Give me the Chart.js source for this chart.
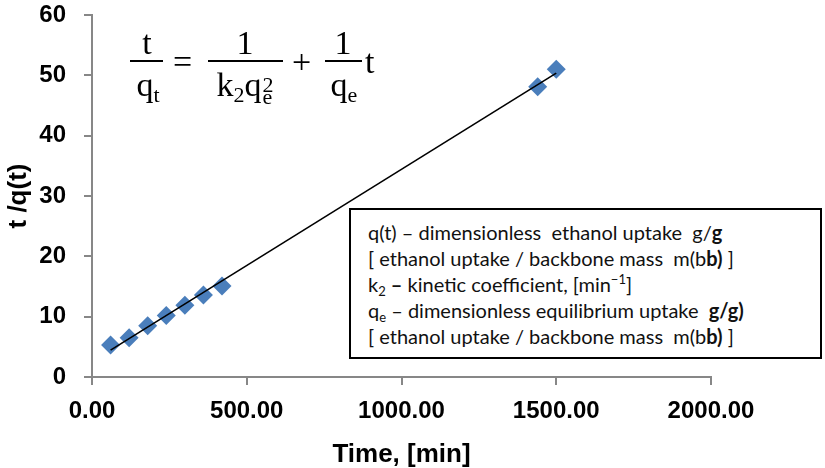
<!DOCTYPE html>
<html>
<head>
<meta charset="utf-8">
<script src="https://cdn.jsdelivr.net/npm/chart.js@4.4.0/dist/chart.umd.min.js"></script>
<style>
  html, body { margin: 0; padding: 0; background: #fff; }
  #wrap { position: relative; width: 825px; height: 468px; overflow: hidden; }
  #chart { position: absolute; left: 0; top: 0; }
  .eq { position: absolute; font-family: "Liberation Serif", serif; font-size: 34px; line-height: 34px; color: #000; white-space: nowrap; }
  .c { transform: translateX(-50%); }
  .bar { position: absolute; height: 0; border-top: 2px solid #000; }
  .eq sub { font-size: 22px; vertical-align: -6px; line-height: 0; }
  .stack { display: inline-block; position: relative; width: 12px; height: 0; }
  .stack span { position: absolute; left: 1px; font-size: 22px; line-height: 22px; }
  #note { position: absolute; box-sizing: border-box; left: 349px; top: 208px; width: 473px; height: 151px;
    border: 2px solid #000; background: #fff; padding: 9px 0 0 17px;
    font-family: Lato, "Open Sans", sans-serif; font-size: 20px; line-height: 26px; color: #111; white-space: nowrap; }
  #note sub { font-size: 13px; line-height: 0; vertical-align: -4px; }
  #note sup { font-size: 13px; line-height: 0; vertical-align: 8px; }
</style>
</head>
<body>
<div id="wrap">
  <canvas id="chart" width="825" height="468"></canvas>

  <!-- t/q_t = 1/(k2 qe^2) + 1/qe t -->
  <div class="eq c" style="left:147px; top:26px;">t</div>
  <div class="bar" style="left:130px; top:60px; width:33px;"></div>
  <div class="eq c" style="left:148px; top:68px;">q<sub>t</sub></div>
  <div class="eq" style="left:173px; top:45px;">=</div>
  <div class="eq c" style="left:245px; top:26px;">1</div>
  <div class="bar" style="left:208px; top:60px; width:75px;"></div>
  <div class="eq c" style="left:245px; top:68px;">k<sub>2</sub>q<span class="stack"><span style="top:-22px;">2</span><span style="top:-10px;">e</span></span></div>
  <div class="eq" style="left:292px; top:45px;">+</div>
  <div class="eq c" style="left:343px; top:26px;">1</div>
  <div class="bar" style="left:325px; top:60px; width:37px;"></div>
  <div class="eq c" style="left:344px; top:68px;">q<sub>e</sub></div>
  <div class="eq" style="left:365px; top:45px;">t</div>

  <div id="note">
    <div>q(t) – dimensionless&nbsp; ethanol uptake&nbsp; g/<b>g</b></div>
    <div>[ ethanol uptake / backbone mass&nbsp; m(b<b>b)</b> ]</div>
    <div>k<sub>2</sub> <b>–</b> kinetic coefficient, [min<sup>−1</sup>]</div>
    <div>q<sub>e</sub> – dimensionless equilibrium uptake&nbsp; <b>g/g)</b></div>
    <div>[ ethanol uptake / backbone mass&nbsp; m(b<b>b)</b> ]</div>
  </div>
</div>

<script>
// measured points: time [min] vs t/q(t)
const timeMin = [60, 120, 180, 240, 300, 360, 420, 1440, 1500];
const tOverQ = [5.3, 6.5, 8.5, 10.2, 11.9, 13.6, 15.1, 48.1, 51.0];

const xTicks = [0, 500, 1000, 1500, 2000];
const yTicks = [0, 10, 20, 30, 40, 50, 60];

// linear trendline (least squares) over the measured range
function linearFit(xs, ys) {
    const n = xs.length;
    let sx = 0, sy = 0, sxx = 0, sxy = 0;
    for (let i = 0; i < n; i++) {
        sx += xs[i]; sy += ys[i];
        sxx += xs[i] * xs[i]; sxy += xs[i] * ys[i];
    }
    const slope = (n * sxy - sx * sy) / (n * sxx - sx * sx);
    const icpt = (sy - slope * sx) / n;
    return { slope, icpt };
}
const fit = linearFit(timeMin, tOverQ);
const xMin = Math.min(...timeMin), xMax = Math.max(...timeMin);
const trend = [
    { x: xMin, y: fit.icpt + fit.slope * xMin },
    { x: xMax, y: fit.icpt + fit.slope * xMax }
];

const axisGrey = '#878787';
const tickFont = { family: "'Liberation Sans', Arial, sans-serif", size: 24, weight: 'bold' };
const titleFont = { family: "'Liberation Sans', Arial, sans-serif", size: 26, weight: 'bold', lineHeight: 1 };

new Chart(document.getElementById('chart'), {
    type: 'scatter',
    data: {
        datasets: [
            {
                label: 'trend',
                data: trend,
                showLine: true,
                borderColor: '#000',
                borderWidth: 1.6,
                pointRadius: 0,
                fill: false
            },
            {
                label: 't/q(t)',
                data: timeMin.map((t, i) => ({ x: t, y: tOverQ[i] })),
                pointStyle: 'rectRot',
                pointRadius: 9.5,
                backgroundColor: '#4a7ebb',
                borderColor: '#4a7ebb',
                borderWidth: 0
            }
        ]
    },
    options: {
        responsive: false,
        animation: false,
        devicePixelRatio: 1,
        layout: { padding: { top: 15, right: 114, bottom: 0, left: 0 } },
        plugins: {
            legend: { display: false },
            tooltip: { enabled: false }
        },
        scales: {
            x: {
                type: 'linear',
                min: 0,
                max: 2000,
                afterBuildTicks: (s) => { s.ticks = xTicks.map(v => ({ value: v })); },
                afterFit: (s) => { s.height = 91; },
                ticks: {
                    color: '#000',
                    font: tickFont,
                    padding: 12,
                    maxRotation: 0,
                    callback: (v) => Number(v).toFixed(2)
                },
                grid: { drawOnChartArea: false, drawTicks: true, tickLength: 8, color: axisGrey, lineWidth: 2 },
                border: { color: axisGrey, width: 2 },
                title: { display: true, text: 'Time, [min]', color: '#000', font: titleFont, padding: { top: 0, bottom: 0 } }
            },
            y: {
                min: 0,
                max: 60,
                afterBuildTicks: (s) => { s.ticks = yTicks.map(v => ({ value: v })); },
                // fixed width, and no extra label overflow above the plot
                afterFit: (s) => { s.width = 92; s.paddingTop = 0; s.paddingBottom = 0; },
                ticks: { color: '#000', font: tickFont, padding: 18 },
                grid: { drawOnChartArea: false, drawTicks: true, tickLength: 8, color: axisGrey, lineWidth: 2 },
                border: { color: axisGrey, width: 2 },
                title: { display: true, text: 't /q(t)', color: '#000', font: titleFont, padding: { top: 6, bottom: 0 } }
            }
        }
    }
});
</script>
</body>
</html>
